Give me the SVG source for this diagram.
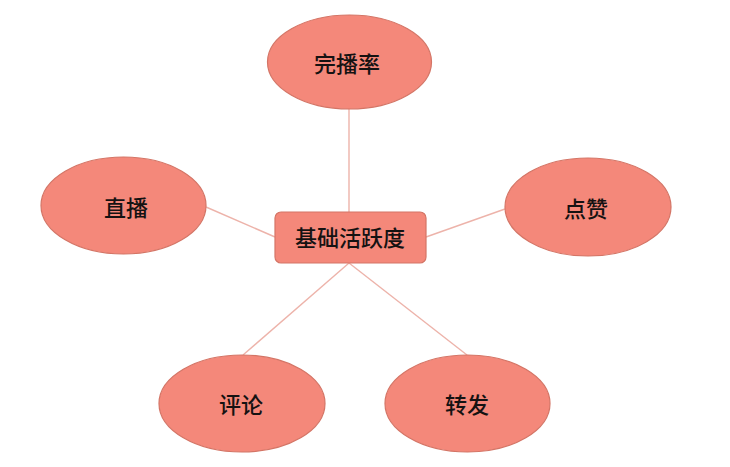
<svg xmlns="http://www.w3.org/2000/svg" width="730" height="467" viewBox="0 0 730 467">
<style>
.n{fill:#F4887A;stroke:#D47566;stroke-width:1.2}
.t{font-family:"Noto Sans CJK SC","Noto Sans",sans-serif;font-size:22px;font-weight:500;fill:#151212;text-anchor:middle;dominant-baseline:central}
.c line{stroke:#EDB3AA;stroke-width:1.4}
</style>
<rect width="730" height="467" fill="#ffffff"/>
<g id="connectors" class="c">
<line x1="349" y1="109" x2="349" y2="212"/>
<line x1="206" y1="207" x2="275" y2="237"/>
<line x1="426" y1="237" x2="505" y2="209"/>
<line x1="349" y1="263" x2="243" y2="355"/>
<line x1="349" y1="263" x2="467" y2="355"/>
</g>
<g id="center">
<rect class="n" x="275" y="212" width="151" height="51" rx="6"/>
<text class="t" x="350" y="236">基础活跃度</text>
</g>
<g id="wanbolv">
<ellipse class="n" cx="349.5" cy="62" rx="82" ry="47"/>
<text class="t" x="347" y="62">完播率</text>
</g>
<g id="zhibo">
<ellipse class="n" cx="123.5" cy="205.5" rx="82.5" ry="48.5"/>
<text class="t" x="126" y="206">直播</text>
</g>
<g id="dianzan">
<ellipse class="n" cx="588" cy="207" rx="83" ry="49"/>
<text class="t" x="586" y="207">点赞</text>
</g>
<g id="pinglun">
<ellipse class="n" cx="242" cy="403.5" rx="83" ry="48.5"/>
<text class="t" x="241" y="403">评论</text>
</g>
<g id="zhuanfa">
<ellipse class="n" cx="467.5" cy="403.5" rx="82.5" ry="48.5"/>
<text class="t" x="467" y="403">转发</text>
</g>
</svg>
